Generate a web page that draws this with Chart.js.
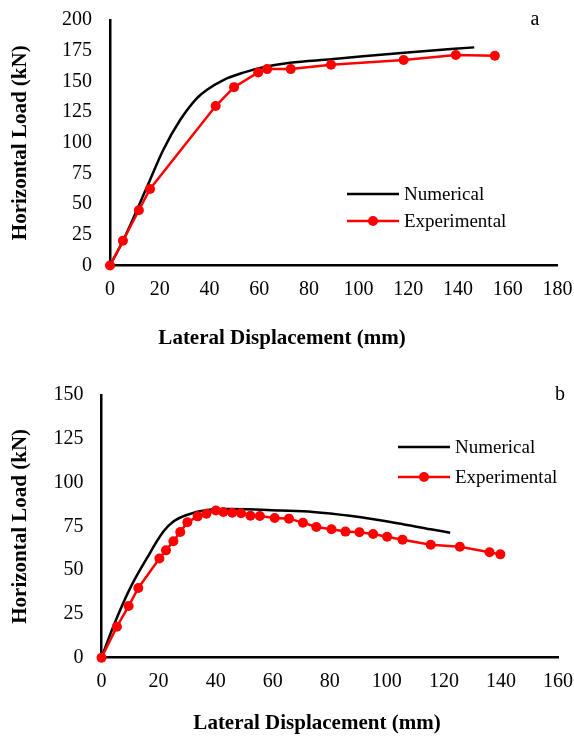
<!DOCTYPE html>
<html>
<head>
<meta charset="utf-8">
<script src="https://cdn.jsdelivr.net/npm/chart.js@4.4.1/dist/chart.umd.min.js"></script>
<style>
	body { margin: 0; background: #fff; }
	canvas { display: block; }
</style>
</head>
<body>
<canvas id="chartA" width="574" height="368"></canvas>
<canvas id="chartB" width="574" height="369"></canvas>
<script>
// chart a
const numAx = [0, 5.4, 11.4, 16.1, 21.4, 28.2, 34.9, 38.9, 45.6, 53.6, 61.7, 72.4, 88.9, 118.4, 146.5];
const numAy = [0, 20.8, 47.9, 69.7, 94.1, 118.5, 136.2, 143, 151.1, 157.1, 161.5, 165.2, 168, 173.4, 177.7];
const expAx = [0, 5.2, 11.6, 16.1, 42.5, 49.9, 59.6, 63.2, 72.7, 88.9, 118.1, 139.1, 154.8];
const expAy = [0, 20.2, 45, 62.3, 129.9, 145.3, 157.3, 160, 160, 163.6, 167.4, 171.5, 170.9];
const ticksAx = [0, 20, 40, 60, 80, 100, 120, 140, 160, 180];
const ticksAy = [0, 25, 50, 75, 100, 125, 150, 175, 200];

// chart b
const numBx = [0, 4.1, 10, 15.9, 21.7, 25.2, 29.9, 37, 45.1, 62.7, 74.1, 87, 103.7, 115.4, 122.2];
const numBy = [0, 17.7, 39.6, 56.8, 72, 77.7, 81.5, 84.4, 84.9, 84, 83.2, 81, 76.8, 73.3, 71.4];
const expBx = [0, 5.4, 9.5, 12.9, 20.3, 22.6, 25.2, 27.6, 30.1, 33.7, 36.8, 40.1, 42.7, 45.8, 48.9, 52.2, 55.5, 60.7, 65.7, 70.6, 75.3, 80.6, 85.5, 90.4, 95.2, 100.1, 105.5, 115.4, 125.6, 136, 139.8];
const expBy = [0, 17.7, 29.5, 39.8, 56.6, 61.3, 66.5, 71.8, 77.3, 80.7, 82.2, 84, 83.2, 82.8, 82.5, 81.1, 80.9, 79.8, 79.4, 77.1, 74.6, 73.3, 72, 71.6, 70.6, 69.1, 67.4, 64.5, 63.4, 60.2, 59];
const ticksBx = [0, 20, 40, 60, 80, 100, 120, 140, 160];
const ticksBy = [0, 25, 50, 75, 100, 125, 150];

const seriesNames = ["Numerical", "Experimental"];
const xTitle = "Lateral Displacement (mm)";
const yTitle = "Horizontal Load (kN)";
const FONT = '"Liberation Serif", "Times New Roman", serif';

function pts(xs, ys) {
	return xs.map((x, i) => ({ x: x, y: ys[i] }));
}

// legend, panel letter and x title drawn by hand so they sit where the original has them
const overlay = {
	id: 'overlay',
	afterDraw(chart, args, o) {
		const ctx = chart.ctx;
		ctx.save();
		ctx.fillStyle = '#000';
		ctx.textBaseline = 'middle';
		ctx.textAlign = 'center';
		ctx.font = 'bold 21px ' + FONT;
		ctx.fillText(xTitle, o.titleX, o.titleY);
		ctx.font = '20px ' + FONT;
		ctx.fillText(o.tag, o.tagX, o.tagY);

		ctx.textAlign = 'left';
		ctx.font = '19px ' + FONT;
		ctx.lineWidth = 2.5;
		ctx.strokeStyle = '#000';
		ctx.beginPath();
		ctx.moveTo(o.legX, o.legY);
		ctx.lineTo(o.legX + 52, o.legY);
		ctx.stroke();
		ctx.fillText(seriesNames[0], o.legX + 57, o.legY + 1);

		const y2 = o.legY + o.legGap;
		ctx.strokeStyle = '#ff0000';
		ctx.beginPath();
		ctx.moveTo(o.legX, y2);
		ctx.lineTo(o.legX + 52, y2);
		ctx.stroke();
		ctx.fillStyle = '#ff0000';
		ctx.beginPath();
		ctx.arc(o.legX + 26, y2, 5, 0, Math.PI * 2);
		ctx.fill();
		ctx.fillStyle = '#000';
		ctx.fillText(seriesNames[1], o.legX + 57, y2 + 1);
		ctx.restore();
	}
};

function makeChart(id, num, exp, xt, yt, box, extra) {
	const ctx = document.getElementById(id).getContext("2d");
	const tickFont = { family: FONT, size: 20 };
	return new Chart(ctx, {
		type: 'scatter',
		data: {
			datasets: [
				{
					label: seriesNames[1],
					data: exp,
					showLine: true,
					borderColor: '#ff0000',
					backgroundColor: '#ff0000',
					borderWidth: 2.5,
					pointRadius: 5,
					pointBorderWidth: 0,
					tension: 0,
					clip: false,
					order: 0
				},
				{
					label: seriesNames[0],
					data: num,
					showLine: true,
					borderColor: '#000',
					backgroundColor: '#000',
					borderWidth: 2.5,
					pointRadius: 0,
					cubicInterpolationMode: 'monotone',
					clip: false,
					order: 1
				}
			]
		},
		options: {
			responsive: false,
			animation: false,
			layout: { padding: 0 },
			plugins: {
				legend: { display: false },
				tooltip: { enabled: false },
				overlay: extra
			},
			scales: {
				x: {
					type: 'linear',
					min: xt[0],
					max: xt[xt.length - 1],
					afterBuildTicks: s => { s.ticks = xt.map(v => ({ value: v })); },
					afterFit: s => {
						s.height = box.xh;
						s.paddingLeft = 0;
						s.paddingRight = box.right;
						s.paddingTop = 0;
						s.paddingBottom = 0;
					},
					grid: { display: false, drawTicks: false },
					border: { display: true, color: '#000', width: 2.5 },
					ticks: { color: '#000', font: tickFont, padding: 12, maxRotation: 0, autoSkip: false }
				},
				y: {
					type: 'linear',
					min: yt[0],
					max: yt[yt.length - 1],
					afterBuildTicks: s => { s.ticks = yt.map(v => ({ value: v })); },
					afterFit: s => {
						s.width = box.left;
						s.paddingLeft = 0;
						s.paddingRight = 0;
						s.paddingTop = box.top;
						s.paddingBottom = 0;
					},
					grid: { display: false, drawTicks: false },
					border: { display: true, color: '#000', width: 2.5 },
					ticks: { color: '#000', font: tickFont, padding: 18, autoSkip: false },
					title: {
						display: true,
						text: yTitle,
						color: '#000',
						font: { family: FONT, size: 21, weight: 'bold' },
						padding: { top: 8, bottom: 0 }
					}
				}
			}
		},
		plugins: [overlay]
	});
}

makeChart("chartA", pts(numAx, numAy), pts(expAx, expAy), ticksAx, ticksAy,
	{ left: 110, right: 16.5, top: 20, xh: 102.5 },
	{ titleX: 282, titleY: 339, tag: "a", tagX: 535, tagY: 20, legX: 347, legY: 194, legGap: 27 });

makeChart("chartB", pts(numBx, numBy), pts(expBx, expBy), ticksBx, ticksBy,
	{ left: 101.5, right: 16, top: 27, xh: 79.3 },
	{ titleX: 317, titleY: 356, tag: "b", tagX: 560, tagY: 27, legX: 398, legY: 79, legGap: 30 });
</script>
</body>
</html>
